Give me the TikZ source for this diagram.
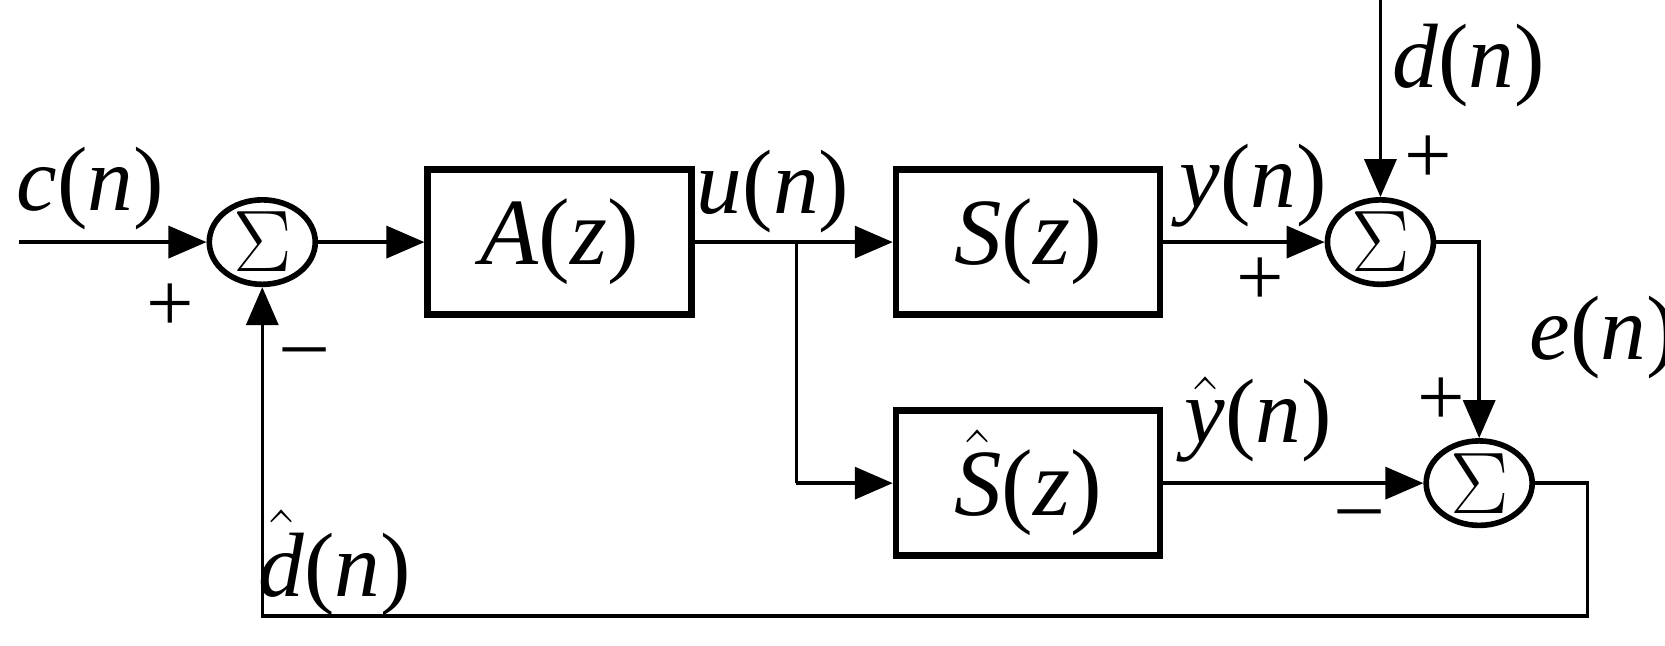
\documentclass[tikz,border=0pt]{standalone}
\usepackage{fontspec}
\setmainfont{Liberation Serif}
\usetikzlibrary{shapes.geometric,arrows.meta}
\newcommand{\vv}[1]{\textit{#1}}
\newcommand{\hh}[1]{$\hat{\mbox{\itshape #1}}$}
\begin{document}
\begin{tikzpicture}[x=0.01062cm,y=-0.01062cm,
 sum/.style={ellipse,draw,line width=1.6pt,minimum width=1.06cm,minimum height=0.84cm,inner sep=0pt,font=\fontsize{24}{24}\selectfont},
 blk/.style={draw,line width=1.8pt,minimum width=2.64cm,minimum height=1.45cm,font=\fontsize{27}{27}\selectfont},
 ln/.style={line width=1pt},
 ar/.style={ln,-{Triangle[length=0.38cm,width=0.32cm]}},
 lab/.style={font=\fontsize{26}{26}\selectfont},
 sg/.style={font=\fontsize{24}{24}\selectfont}]
\useasboundingbox (0,0) rectangle (1568,608);
\node[sum] (s1) at (247,228) {$\Sigma$};
\node[sum] (s2) at (1300,228) {$\Sigma$};
\node[sum] (s3) at (1393,455) {$\Sigma$};
\node[blk] (A) at (527,228) {\vv{A}(\vv{z})};
\node[blk] (S) at (968,228) {\vv{S}(\vv{z})};
\node[blk] (Sh) at (968,455) {\hh{S}(\vv{z})};
\coordinate (in) at (18,228);
\coordinate (dtop) at (1300,0);
\coordinate (br) at (750,228);
\coordinate (bd) at (750,455);
\coordinate (ec) at (1393,228);
\coordinate (r1) at (1495,455);
\coordinate (r2) at (1495,580);
\coordinate (r3) at (247,580);
\draw[ar] (in) -- (s1.west);
\draw[ar] (s1.east) -- (A.west);
\draw[ar] (A.east) -- (S.west);
\draw[ln] (br) -- (bd);
\draw[ar] (bd) -- (Sh.west);
\draw[ar] (S.east) -- (s2.west);
\draw[ar] (dtop) -- (s2.north);
\draw[ar] (s2.east) -- (ec) -- (s3.north);
\draw[ar] (Sh.east) -- (s3.west);
\draw[ar] (s3.east) -- (r1) -- (r2) -- (r3) -- (s1.south);
\node[lab] (lc) at (85,178) {\vv{c}(\vv{n})};
\node[lab] (lu) at (728,180) {\vv{u}(\vv{n})};
\node[lab] (ly) at (1180,175) {\vv{y}(\vv{n})};
\node[lab] (ld) at (1383,62) {\vv{d}(\vv{n})};
\node[lab] (le) at (1510,318) {\vv{e}(\vv{n})};
\node[lab] (lyh) at (1185,395) {\hh{y}(\vv{n})};
\node[lab] (ldh) at (315,530) {\hh{d}(\vv{n})};
\node[sg] (p1) at (160,290) {+};
\node[sg] (m1) at (287,338) {\textendash};
\node[sg] (p2) at (1187,265) {+};
\node[sg] (p3) at (1345,150) {+};
\node[sg] (p4) at (1357,378) {+};
\node[sg] (m2) at (1280,490) {\textendash};
\end{tikzpicture}
\end{document}
